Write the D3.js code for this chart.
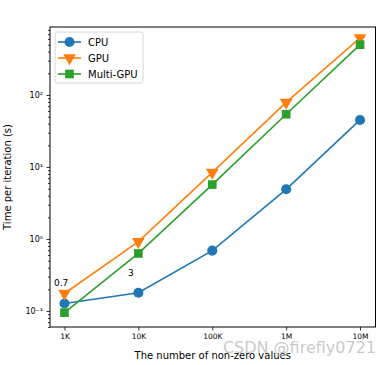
<!DOCTYPE html>
<html>
<head>
<meta charset="utf-8">
<script src="https://cdn.jsdelivr.net/npm/d3@7"></script>
<style>
body { margin: 0; background: #fff; }
text { font-family: "DejaVu Sans", sans-serif; }
</style>
</head>
<body>
<div class="container"></div>
<script>
// data
var nnz = [1e3, 1e4, 1e5, 1e6, 1e7];
var tickLabels = ["1K", "10K", "100K", "1M", "10M"];
var blueVals = [0.127, 0.179, 0.69, 4.9, 45];
var orangeVals = [0.175, 0.92, 8.4, 79, 620];
var greenVals = [0.095, 0.63, 5.7, 54, 500];
var seriesNames = ["CPU", "GPU", "Multi-GPU"];
var colors = ["#1f77b4", "#ff7f0e", "#2ca02c"];
var yTicks = [0.1, 1, 10, 100];
var yTickLabels = ["10\u207b\u00b9", "10\u2070", "10\u00b9", "10\u00b2"];

var W = 391, H = 365;
// note: "top" is window.top, so use other names
var pLeft = 50, pRight = 375.5, pTop = 27, pBottom = 327;

var svg = d3.select(".container").append("svg")
	.attr("width", W)
	.attr("height", H);

var x = d3.scaleLog().domain([Math.pow(10, 2.804), Math.pow(10, 7.209)]).range([pLeft, pRight]);
var y = d3.scaleLog().domain([Math.pow(10, -1.222), Math.pow(10, 2.944)]).range([pBottom, pTop]);

// x axis
var xAxis = d3.axisBottom(x)
	.tickValues(nnz)
	.tickFormat(function(d, i) { return tickLabels[i]; })
	.tickSize(3.5)
	.tickPadding(3.5);
var gx = svg.append("g").attr("transform", "translate(0," + pBottom + ")").call(xAxis);
gx.select(".domain").remove();
gx.selectAll("text").style("font-size", "7.5px").attr("fill", "#000");

// y axis, major + minor
var minor = [];
for (var e = -2; e <= 2; e++) {
	for (var m = 2; m <= 9; m++) {
		var v = m * Math.pow(10, e);
		if (v >= y.domain()[0] && v <= y.domain()[1]) minor.push(v);
	}
}
var gym = svg.append("g").attr("transform", "translate(" + pLeft + ",0)")
	.call(d3.axisLeft(y).tickValues(minor).tickFormat("").tickSize(2));
gym.select(".domain").remove();

var gy = svg.append("g").attr("transform", "translate(" + pLeft + ",0)")
	.call(d3.axisLeft(y).tickValues(yTicks)
		.tickFormat(function(d, i) { return yTickLabels[i]; })
		.tickSize(3.5).tickPadding(3.5));
gy.select(".domain").remove();
gy.selectAll("text").style("font-size", "8px").attr("fill", "#000");

svg.selectAll(".tick line").attr("stroke", "#000").attr("stroke-width", 0.8);

// frame
svg.append("rect")
	.attr("x", pLeft).attr("y", pTop)
	.attr("width", pRight - pLeft).attr("height", pBottom - pTop)
	.attr("fill", "none").attr("stroke", "#000").attr("stroke-width", 1);

// labels
svg.append("text")
	.attr("x", (pLeft + pRight) / 2).attr("y", 359)
	.attr("text-anchor", "middle")
	.style("font-size", "10px")
	.text("The number of non-zero values");

svg.append("text")
	.attr("transform", "translate(11," + ((pTop + pBottom) / 2) + ") rotate(-90)")
	.attr("text-anchor", "middle")
	.style("font-size", "10px")
	.text("Time per iteration (s)");

// series
var allSeries = [blueVals, orangeVals, greenVals];
var symbols = [d3.symbolCircle, d3.symbolTriangle, d3.symbolSquare];
var symSizes = [80, 70, 75];
var line = d3.line()
	.x(function(d, i) { return x(nnz[i]); })
	.y(function(d) { return y(d); });

var plot = svg.append("g");

function drawMarker(g, cx, cy, k) {
	var rot = k === 1 ? " rotate(180)" : "";
	g.append("path")
		.attr("d", d3.symbol().type(symbols[k]).size(symSizes[k])())
		.attr("transform", "translate(" + cx + "," + cy + ")" + rot)
		.attr("fill", colors[k]);
}

allSeries.forEach(function(vals, k) {
	plot.append("path")
		.datum(vals)
		.attr("d", line)
		.attr("fill", "none")
		.attr("stroke", colors[k])
		.attr("stroke-width", 1.6);
	vals.forEach(function(v, i) {
		drawMarker(plot, x(nnz[i]), y(v), k);
	});
});

// value annotations
svg.append("text").attr("x", 54).attr("y", 286).style("font-size", "9px").text("0.7");
svg.append("text").attr("x", 128).attr("y", 276).style("font-size", "9px").text("3");

// legend
var lg = svg.append("g");
lg.append("rect")
	.attr("x", 55).attr("y", 32).attr("width", 88).attr("height", 51)
	.attr("rx", 2.5)
	.attr("fill", "#fff").attr("fill-opacity", 0.8)
	.attr("stroke", "#ccc").attr("stroke-width", 0.8);
seriesNames.forEach(function(name, k) {
	var ly = 42 + k * 16;
	lg.append("line")
		.attr("x1", 58).attr("x2", 81).attr("y1", ly).attr("y2", ly)
		.attr("stroke", colors[k]).attr("stroke-width", 1.6);
	drawMarker(lg, 69.5, ly, k);
	lg.append("text")
		.attr("x", 88).attr("y", ly + 3.5)
		.style("font-size", "10px")
		.text(name);
});

// watermark
svg.append("text")
	.attr("x", 376).attr("y", 353)
	.attr("text-anchor", "end")
	.style("font-size", "16px")
	.attr("fill", "#bbb")
	.attr("fill-opacity", 0.8)
	.text("CSDN @firefly0721");
</script>
</body>
</html>
